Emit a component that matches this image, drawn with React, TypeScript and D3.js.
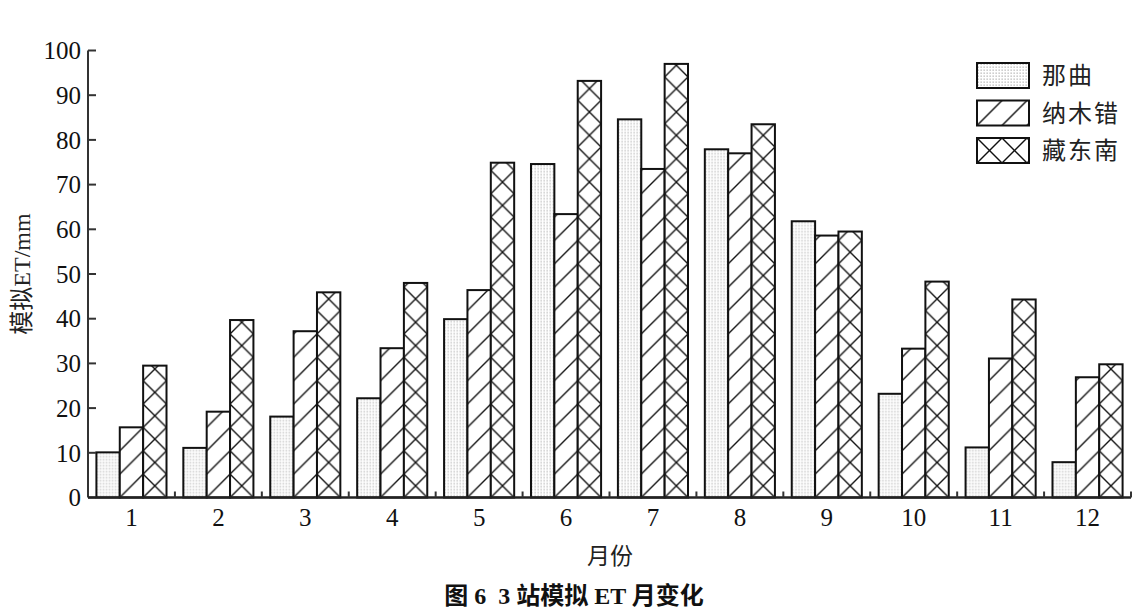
import React from 'react';
import * as d3 from 'd3';

// 月份
const months = ['1', '2', '3', '4', '5', '6', '7', '8', '9', '10', '11', '12'];
const seriesNames = ['那曲', '纳木错', '藏东南'];
// 模拟ET (mm)
const naqu = [10.1, 11.1, 18.1, 22.2, 39.9, 74.6, 84.6, 77.9, 61.8, 23.2, 11.2, 7.9];
const namco = [15.7, 19.2, 37.2, 33.4, 46.4, 63.4, 73.5, 77.0, 58.6, 33.3, 31.1, 26.9];
const zangdongnan = [29.5, 39.7, 45.9, 48.0, 74.9, 93.2, 97.0, 83.5, 59.5, 48.3, 44.3, 29.8];
const yTicks = [0, 10, 20, 30, 40, 50, 60, 70, 80, 90, 100];

const W = 1141;
const H = 614;
const m = { left: 88, right: 10, top: 50.5, bottom: 116.5 };

const App: React.FC = () => {
  const seriesValues = [naqu, namco, zangdongnan];

  const x0 = d3.scaleBand<string>().domain(months).range([m.left, W - m.right]).padding(0);
  const x1 = d3.scaleBand<string>()
    .domain(seriesNames)
    .range([0, x0.bandwidth()])
    .paddingInner(0)
    .paddingOuter(0.36);
  const y = d3.scaleLinear().domain([0, 100]).range([H - m.bottom, m.top]);

  const bw = x1.bandwidth();
  const y0 = y(0);
  const serif = '"Liberation Serif", "Times New Roman", serif';
  const cjk = '"Liberation Serif", "Noto Sans CJK SC", serif';

  // 每个柱子一个图案，使花纹对齐柱子边缘
  const patId = (s: number, key: string) => `pat-${s}-${key}`;
  const patternFor = (s: number, key: string, px: number, py: number, size: number) => {
    const id = patId(s, key);
    if (s === 0) {
      return (
        <pattern key={id} id={id} x={px} y={py} width={3} height={3} patternUnits="userSpaceOnUse">
          <rect width={3} height={3} fill="#fff" />
          <rect x={0.5} y={0.5} width={1.3} height={1.3} fill="#b4b4b4" />
        </pattern>
      );
    }
    if (s === 1) {
      return (
        <pattern key={id} id={id} x={px} y={py} width={size} height={size} patternUnits="userSpaceOnUse">
          <rect width={size} height={size} fill="#fff" />
          <line x1={0} y1={size} x2={size} y2={0} stroke="#111" strokeWidth={1.4} />
          <line x1={-2} y1={2} x2={2} y2={-2} stroke="#111" strokeWidth={1.4} />
          <line x1={size - 2} y1={size + 2} x2={size + 2} y2={size - 2} stroke="#111" strokeWidth={1.4} />
        </pattern>
      );
    }
    return (
      <pattern key={id} id={id} x={px} y={py} width={size} height={size} patternUnits="userSpaceOnUse">
        <rect width={size} height={size} fill="#fff" />
        <line x1={0} y1={size} x2={size} y2={0} stroke="#111" strokeWidth={1.4} />
        <line x1={0} y1={0} x2={size} y2={size} stroke="#111" strokeWidth={1.4} />
      </pattern>
    );
  };

  const patterns: React.ReactNode[] = [];
  seriesValues.forEach((vals, s) => {
    vals.forEach((_, i) => {
      const bx = (x0(months[i]) || 0) + (x1(seriesNames[s]) || 0);
      patterns.push(patternFor(s, String(i), bx, y0, bw));
    });
  });

  // 图例
  const legX = 977;
  const legY = 63;
  const legStep = 37.5;
  const legW = 52;
  const legH = 25;
  seriesNames.forEach((_, s) => {
    patterns.push(patternFor(s, 'leg', legX, legY + s * legStep, legH));
  });

  const groupEdges = months.map((mo) => (x0(mo) || 0) + x0.bandwidth());

  return (
    <svg
      width={W}
      height={H}
      viewBox={`0 0 ${W} ${H}`}
      style={{ position: 'absolute', left: 0, top: 0, background: '#fff' }}
    >
      <defs>{patterns}</defs>
      <rect width={W} height={H} fill="#fff" />

      {/* 柱子 */}
      {seriesValues.map((vals, s) =>
        vals.map((v, i) => (
          <rect
            key={`b-${s}-${i}`}
            x={(x0(months[i]) || 0) + (x1(seriesNames[s]) || 0)}
            y={y(v)}
            width={bw}
            height={y0 - y(v)}
            fill={`url(#${patId(s, String(i))})`}
            stroke="#111"
            strokeWidth={2}
          />
        ))
      )}

      {/* Y 轴 */}
      <line x1={m.left} x2={m.left} y1={y(100)} y2={y0} stroke="#333" strokeWidth={2} />
      {yTicks.map((t) => (
        <g key={`yt-${t}`}>
          <line x1={m.left} x2={m.left + 8} y1={y(t)} y2={y(t)} stroke="#333" strokeWidth={2} />
          <text
            x={m.left - 7}
            y={y(t)}
            dy="0.35em"
            textAnchor="end"
            fontFamily={serif}
            fontSize={25}
            fill="#111"
          >
            {t}
          </text>
        </g>
      ))}

      {/* X 轴 */}
      <line x1={m.left} x2={W - m.right} y1={y0} y2={y0} stroke="#222" strokeWidth={2.5} />
      {groupEdges.map((gx, i) => (
        <line key={`xt-${i}`} x1={gx} x2={gx} y1={y0} y2={y0 - 6} stroke="#333" strokeWidth={2} />
      ))}
      {months.map((mo) => (
        <text
          key={`xl-${mo}`}
          x={(x0(mo) || 0) + x0.bandwidth() / 2}
          y={y0 + 28}
          textAnchor="middle"
          fontFamily={serif}
          fontSize={25}
          fill="#111"
        >
          {mo}
        </text>
      ))}

      {/* 轴标题 */}
      <text
        transform={`translate(30, ${(y(100) + y0) / 2}) rotate(-90)`}
        textAnchor="middle"
        fontFamily={cjk}
        fontSize={24}
        fill="#222"
      >
        模拟ET/mm
      </text>
      <text x={610} y={564} textAnchor="middle" fontFamily={cjk} fontSize={23} fill="#222">
        月份
      </text>
      <text
        x={574}
        y={604}
        textAnchor="middle"
        fontFamily={cjk}
        fontSize={24}
        fontWeight="bold"
        fill="#111"
        style={{ whiteSpace: 'pre' }}
      >
        {'图 6  3 站模拟 ET 月变化'}
      </text>

      {/* 图例 */}
      {seriesNames.map((name, s) => (
        <g key={`leg-${s}`}>
          <rect
            x={legX}
            y={legY + s * legStep}
            width={legW}
            height={legH}
            fill={`url(#${patId(s, 'leg')})`}
            stroke="#111"
            strokeWidth={2}
          />
          <text
            x={legX + 65}
            y={legY + s * legStep + legH / 2}
            dy="0.36em"
            fontFamily={cjk}
            fontSize={24}
            letterSpacing={2}
            fill="#222"
          >
            {name}
          </text>
        </g>
      ))}
    </svg>
  );
};

export default App;
